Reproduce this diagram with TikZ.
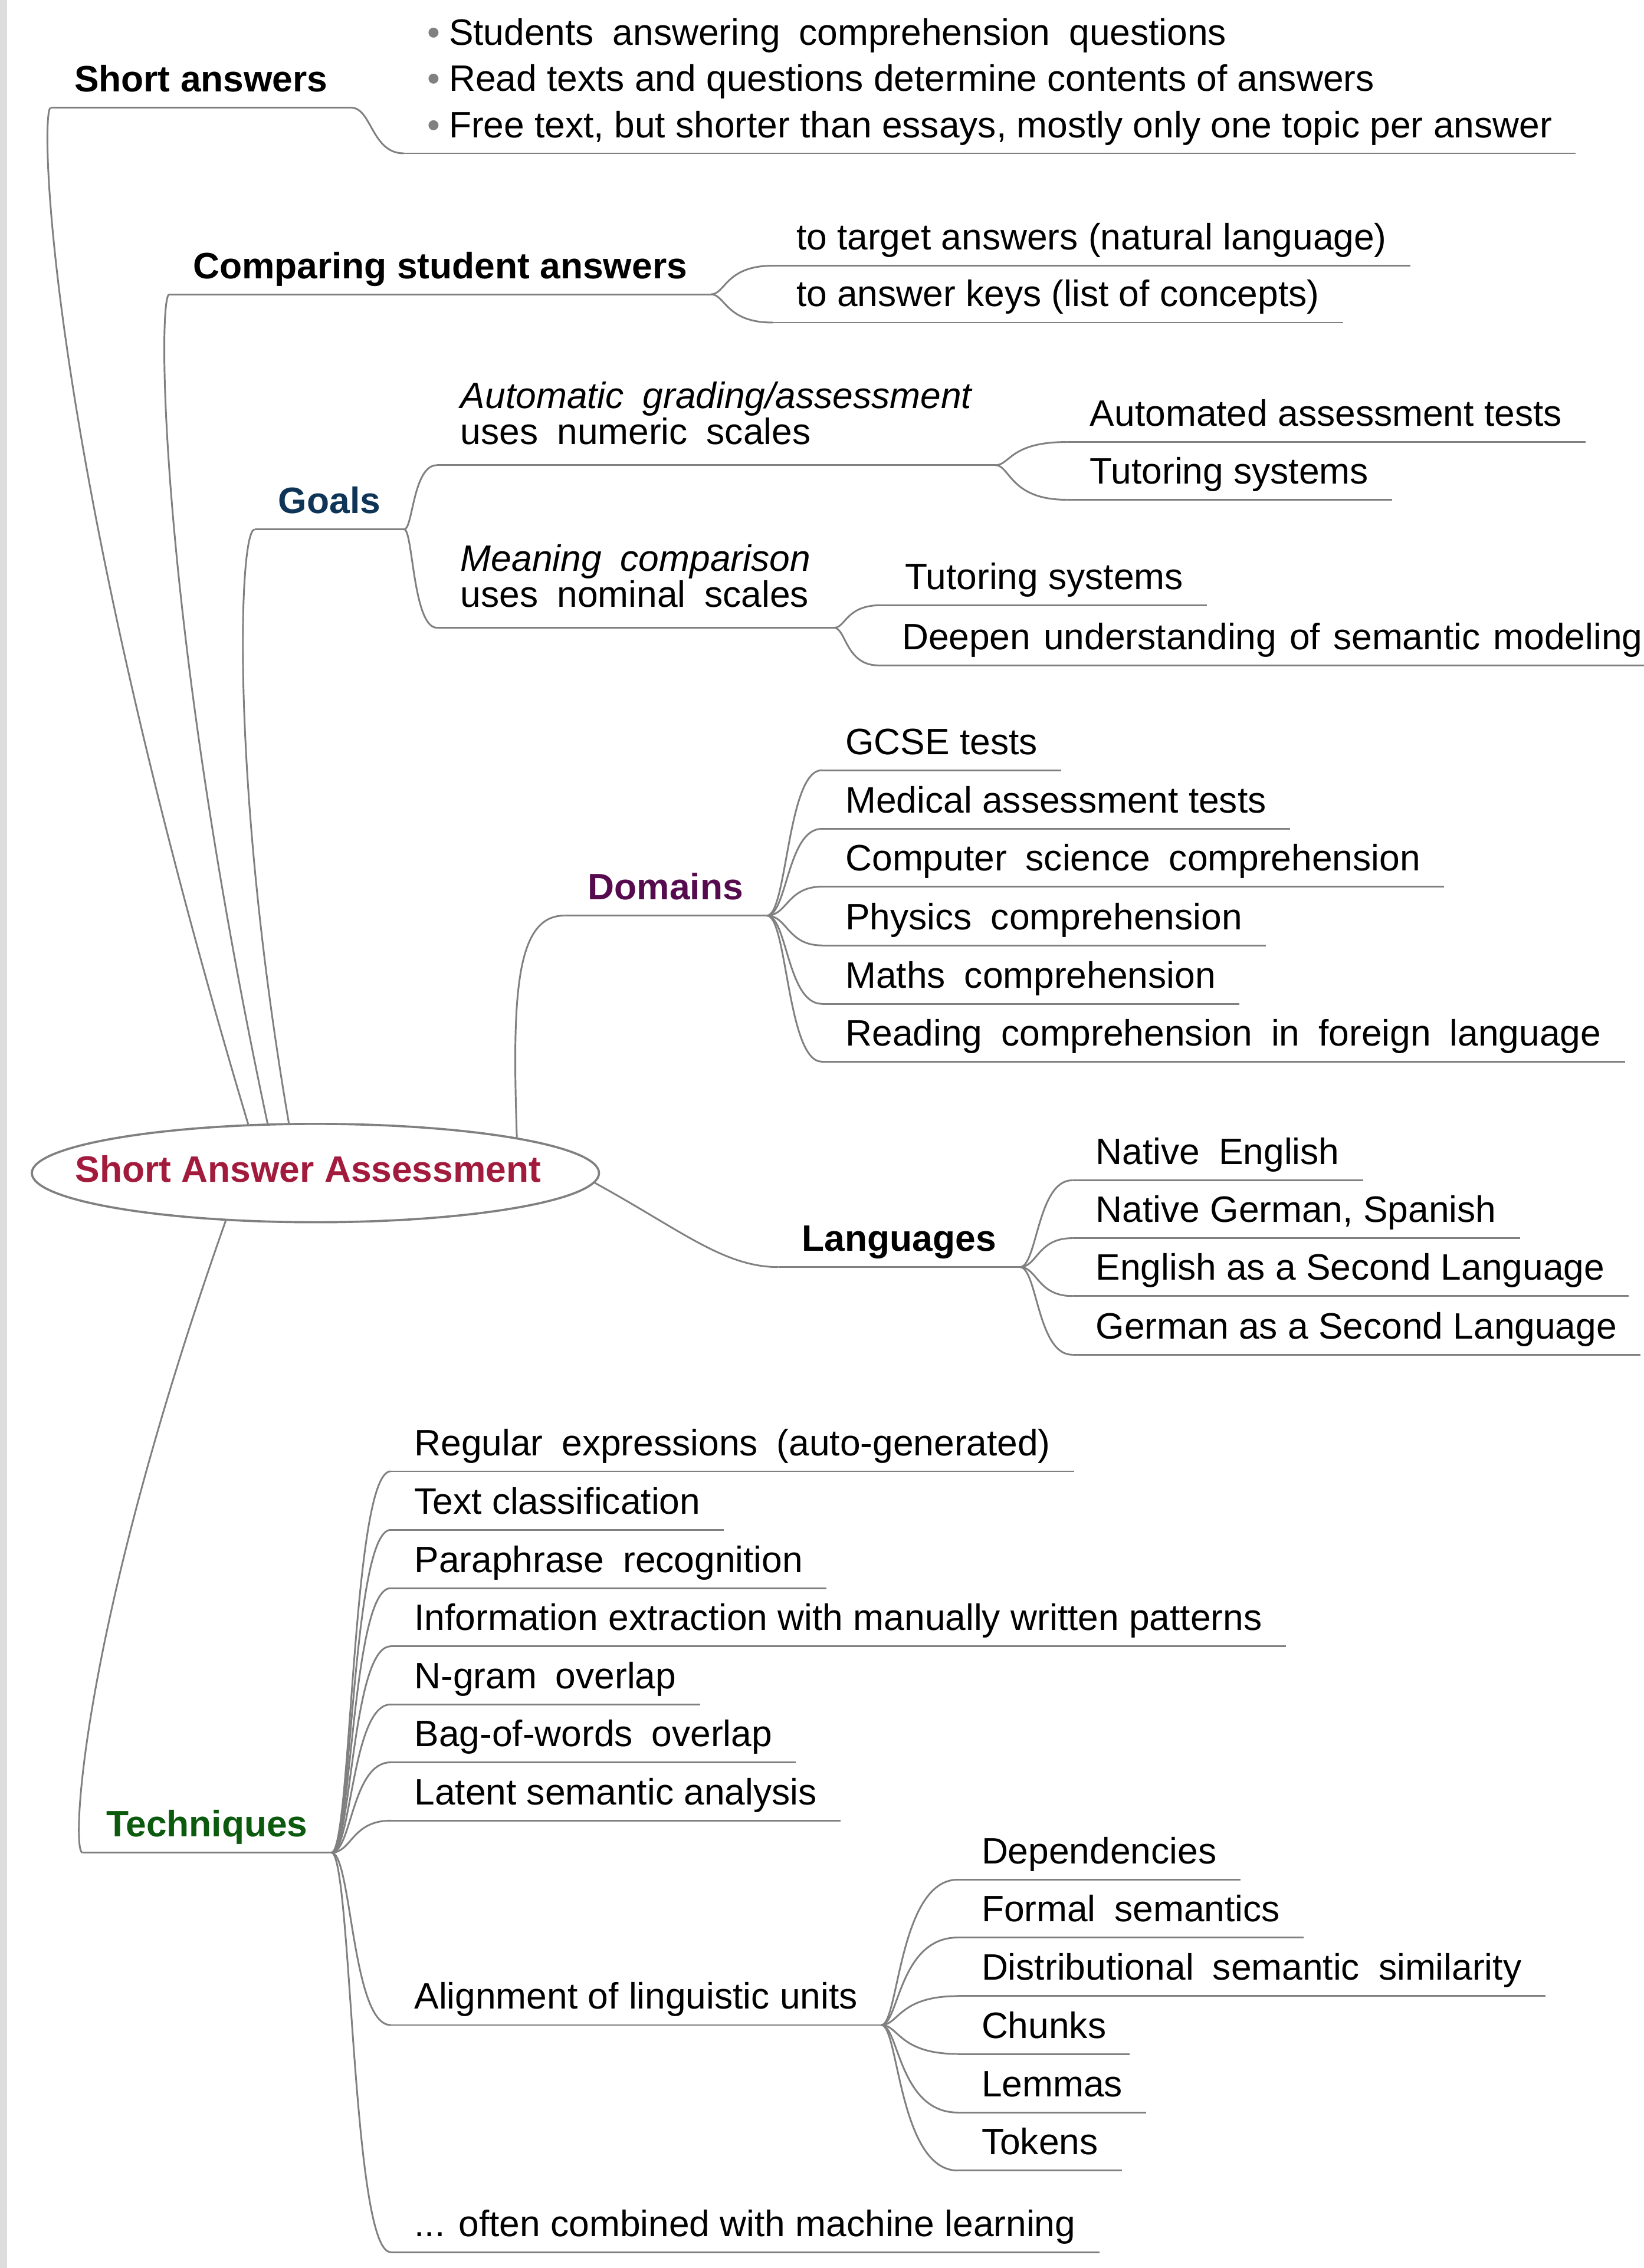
\documentclass[tikz,border=0pt]{standalone}
\usepackage{fontspec}
\setmainfont{Liberation Sans}
\usetikzlibrary{shapes.geometric,calc}

\definecolor{linegray}{HTML}{808080}
\definecolor{bargray}{HTML}{DDDDDD}
\definecolor{rootred}{HTML}{A21B3C}
\definecolor{goalblue}{HTML}{0E3457}
\definecolor{dompurple}{HTML}{560B4F}
\definecolor{techgreen}{HTML}{0C5A0E}

\newcommand{\mapfont}{\fontsize{12.7}{15}\selectfont}
\newcommand{\widesp}[1]{{\spaceskip=6.5pt\relax#1}}
\newcommand{\bul}{\textcolor{linegray}{\textbullet}\hspace{3pt}}

\begin{document}
\begin{tikzpicture}[x=0.5pt,y=-0.5pt,
  conn/.style={draw=linegray,line width=0.6pt},
  leaf/.style={anchor=south west,font=\mapfont,inner xsep=8pt,inner ysep=2.1pt,text depth=3.2pt},
  main/.style={leaf,font=\mapfont\bfseries},
  multi/.style={anchor=south west,align=left,inner xsep=8pt,font=\fontsize{12.7}{#1}\selectfont},
  rootnode/.style={ellipse,draw=linegray,line width=0.75pt,minimum width=196pt,minimum height=34pt,inner sep=0pt},
  branch/.style={to path={.. controls ($(\tikztostart)+(#1,0)$) and ($(\tikztostart|-\tikztotarget)+(#1,0)$) .. (\tikztotarget)}},
  branch/.default=12]
\useasboundingbox (0,0) rectangle (1136,1568);
\fill[bargray] (0,0) rectangle (5,1568);

% Root
\node[rootnode] (root) at (218,811) {};
\node[font=\mapfont\bfseries,text=rootred,inner sep=0pt] (roottxt) at (213,808) {Short Answer Assessment};

% Short answers
\node[main] (sa) at (35,74.5) {Short answers};
\node[multi=16,inner ysep=2.6pt] (sab) at (279,106) {\bul\widesp{Students answering comprehension questions}\\
  \bul Read texts and questions determine contents of answers\\
  \bul Free text, but shorter than essays, mostly only one topic per answer};

% Comparing
\node[main] (cmp) at (117,203.5) {Comparing student answers};
\node[leaf] (tgt) at (534,183.7) {to target answers (natural language)};
\node[leaf] (keys) at (534,223) {to answer keys (list of concepts)};

% Goals
\node[main,text=goalblue] (goals) at (176,366) {Goals};
\node[multi=12.5,inner ysep=6.8pt] (auto) at (302,321.6) {{\itshape\widesp{Automatic grading/assessment}}\\\widesp{uses numeric scales}};
\node[multi=12.5,inner ysep=6.8pt] (mean) at (302,434) {{\itshape\widesp{Meaning comparison}}\\\widesp{uses nominal scales}};
\node[leaf] (aat) at (737,305.6) {Automated assessment tests};
\node[leaf] (ts1) at (737,345.5) {Tutoring systems};
\node[leaf] (ts2) at (609,418.4) {Tutoring systems};
\node[leaf] (deep) at (607,460) {{\spaceskip=4.5pt\relax Deepen understanding of semantic modeling}};

% Domains
\node[main,text=dompurple] (dom) at (390,633) {Domains};
\node[leaf] (gcse) at (568,532.5) {GCSE tests};
\node[leaf] (med) at (568,573) {Medical assessment tests};
\node[leaf] (cs) at (568,613) {\widesp{Computer science comprehension}};
\node[leaf] (phys) at (568,653.6) {\widesp{Physics comprehension}};
\node[leaf] (maths) at (568,694) {\widesp{Maths comprehension}};
\node[leaf] (read) at (568,734) {\widesp{Reading comprehension in foreign language}};

% Languages
\node[main] (lang) at (538,876) {Languages};
\node[leaf] (ne) at (741,816) {\widesp{Native English}};
\node[leaf] (ng) at (741,856) {Native German, Spanish};
\node[leaf] (esl) at (741,896) {English as a Second Language};
\node[leaf] (gsl) at (741,936.6) {German as a Second Language};

% Techniques
\node[main,text=techgreen] (tech) at (57,1280.8) {Techniques};
\node[leaf] (regex) at (270,1017.2) {\widesp{Regular expressions (auto-generated)}};
\node[leaf] (textc) at (270,1057.7) {Text classification};
\node[leaf] (para) at (270,1098) {\widesp{Paraphrase recognition}};
\node[leaf] (ie) at (270,1138.2) {Information extraction with manually written patterns};
\node[leaf] (ngram) at (270,1178.4) {\widesp{N-gram overlap}};
\node[leaf] (bow) at (270,1218.4) {\widesp{Bag-of-words overlap}};
\node[leaf] (lsa) at (270,1258.7) {Latent semantic analysis};
\node[leaf] (alig) at (270,1400) {Alignment of linguistic units};
\node[leaf] (ml) at (270,1557) {... often combined with machine learning};
\node[leaf] (dep) at (662,1299.5) {Dependencies};
\node[leaf] (fsem) at (662,1339.5) {\widesp{Formal semantics}};
\node[leaf] (dss) at (662,1380) {\widesp{Distributional semantic similarity}};
\node[leaf] (chk) at (662,1420) {Chunks};
\node[leaf] (lem) at (662,1460.5) {Lemmas};
\node[leaf] (tok) at (662,1500.6) {Tokens};

% Underlines
\foreach \n in {sa,sab,cmp,tgt,keys,goals,auto,mean,aat,ts1,ts2,deep,dom,gcse,med,cs,phys,maths,read,lang,ne,ng,esl,gsl,tech,regex,textc,para,ie,ngram,bow,lsa,alig,ml,dep,fsem,dss,chk,lem,tok}
  \draw[conn] (\n.south west) -- (\n.south east);

% Branches
\draw[conn] (sa.south east) to[branch=14] (sab.south west);
\foreach \c in {tgt,keys} \draw[conn] (cmp.south east) to[branch=10] (\c.south west);
\foreach \c in {auto,mean} \draw[conn] (goals.south east) to[branch=6] (\c.south west);
\foreach \c in {aat,ts1} \draw[conn] (auto.south east) to[branch=10] (\c.south west);
\foreach \c in {ts2,deep} \draw[conn] (mean.south east) to[branch=8] (\c.south west);
\foreach \c in {gcse,med,cs,phys,maths,read} \draw[conn] (dom.south east) to[branch=14] (\c.south west);
\foreach \c in {ne,ng,esl,gsl} \draw[conn] (lang.south east) to[branch=12] (\c.south west);
\foreach \c in {regex,textc,para,ie,ngram,bow,lsa,alig,ml} \draw[conn] (tech.south east) to[branch=14] (\c.south west);
\foreach \c in {dep,fsem,dss,chk,lem,tok} \draw[conn] (alig.south east) to[branch=12] (\c.south west);

% From the root
\draw[conn] (root.144) .. controls (29,300) and ($(sa.south west)+(-7,0)$) .. (sa.south west);
\draw[conn] (root.134) .. controls (109,420) and ($(cmp.south west)+(-8,0)$) .. (cmp.south west);
\draw[conn] (root.118) .. controls (159,540) and ($(goals.south west)+(-11,0)$) .. (goals.south west);
\draw[conn] (root.10) .. controls (354,690) and ($(dom.south west)+(-34,0)$) .. (dom.south west);
\draw[conn] (root.-2) .. controls (470,850) and ($(lang.south west)+(-38,0)$) .. (lang.south west);
\draw[conn] (root.208) .. controls (55,1130) and ($(tech.south west)+(-8,0)$) .. (tech.south west);
\end{tikzpicture}
\end{document}
